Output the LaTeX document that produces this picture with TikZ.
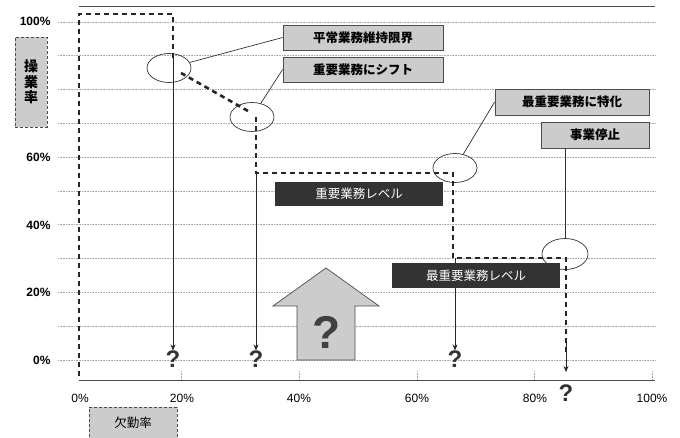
\documentclass[tikz,border=0pt]{standalone}
\usepackage{fontspec}
\setmainfont{Liberation Sans}
\newfontfamily\jp{Noto Sans CJK JP}
\usetikzlibrary{arrows.meta,shapes.geometric}
\begin{document}
\begin{tikzpicture}[x=1pt,y=-1pt,
  grid/.style={gray!70,densely dotted,line width=0.6pt},
  pathline/.style={gray!30!black,line width=2.6pt,dash pattern=on 5pt off 4pt},
  thinarr/.style={gray!30!black,line width=0.7pt,-{Stealth[length=6pt,width=5pt]}},
  ell/.style={ellipse,draw=black!80,line width=0.7pt,minimum width=44pt,minimum height=29pt,inner sep=0pt},
  gbox/.style={draw=black!70,line width=0.8pt,fill=gray!40,font=\jp\bfseries\fontsize{12.5}{14}\selectfont,inner sep=0pt},
  dbox/.style={fill=black!80,text=white,font=\jp\fontsize{12.5}{14}\selectfont,inner sep=0pt,minimum width=168pt,minimum height=24pt},
  ylab/.style={anchor=east,font=\bfseries\fontsize{12}{14}\selectfont},
  xlab/.style={font=\fontsize{12}{14}\selectfont},
  qm/.style={font=\bfseries\fontsize{24}{26}\selectfont,text=black!80,inner sep=0pt},
  conn/.style={black!80,line width=0.7pt}]
\useasboundingbox (0,0) rectangle (680,438);
% grid
\foreach \k in {0,...,10}{\draw[grid] (58,{22+33.8*\k}) -- (655,{22+33.8*\k});}
\draw[gray!60!black,line width=0.6pt] (79,6) -- (655,6);
\draw[gray!60!black,line width=0.8pt] (79,380) -- (655,380);
\foreach \x in {181,299,417,534,652}{\draw[grid] (\x,371) -- (\x,380);}
% y labels
\node[ylab] (y100) at (54,21) {100\%};
\node[ylab] (y60) at (54,157) {60\%};
\node[ylab] (y40) at (54,225) {40\%};
\node[ylab] (y20) at (54,292) {20\%};
\node[ylab] (y0) at (54,360) {0\%};
% x labels
\node[xlab] (x0) at (80,398) {0\%};
\node[xlab] (x20) at (182,398) {20\%};
\node[xlab] (x40) at (299,398) {40\%};
\node[xlab] (x60) at (417,398) {60\%};
\node[xlab] (x80) at (535,398) {80\%};
\node[xlab] (x100) at (652,398) {100\%};
% axis titles
\node[draw=gray!60!black,densely dashed,line width=0.8pt,fill=gray!40,minimum width=32pt,minimum height=90pt,inner sep=0pt,align=center,font=\jp\bfseries\fontsize{14}{15.5}\selectfont] (ytitle) at (31,82) {操\\業\\率};
\node[draw=gray!60!black,densely dashed,line width=0.8pt,fill=gray!40,minimum width=88pt,minimum height=32pt,inner sep=0pt,font=\jp\fontsize{12.5}{14}\selectfont] (xtitle) at (133,423) {欠勤率};
% big arrow
\draw[black!70,line width=0.7pt,fill=gray!40] (297,360) -- (297,306) -- (273,306) -- (326,268) -- (379,306) -- (355,306) -- (355,360) -- cycle;
\node[font=\bfseries\fontsize{46}{48}\selectfont,text=black!75,inner sep=0pt] (bigq) at (327,332) {?};
% ellipses
\node[ell] (e1) at (169,68) {};
\node[ell] (e2) at (252,117) {};
\node[ell] (e3) at (455,168) {};
\node[ell,minimum width=46pt,minimum height=31pt] (e4) at (565,254) {};
% question marks
\node[qm] (q1) at (173,359) {?};
\node[qm] (q2) at (256,359) {?};
\node[qm] (q3) at (455,359) {?};
\node[qm] (q4) at (566,393) {?};
\coordinate (c4) at (566,372);
% thick scenario path
\draw[pathline] (79,376) -- (79,14) -- (173,14) -- (173,58);
\draw[pathline] (181,73) -- (248,111);
\draw[pathline] (256,117) -- (256,173) -- (453,173) -- (453,258) -- (566,258) -- (566,352);
\draw[thinarr] (566,340) -- (c4);
% thin arrows
\draw[thinarr] (173,58) -- (q1.north);
\draw[thinarr] (256,173) -- (q2.north);
\draw[thinarr] (455,258) -- (q3.north);
% level boxes
\node[dbox] (L1) at (359,194) {重要業務レベル};
\node[dbox,minimum height=25pt] (L2) at (476,275.5) {最重要業務レベル};
% callouts
\node[gbox,minimum width=160pt,minimum height=25pt] (A) at (363,37.5) {平常業務維持限界};
\node[gbox,minimum width=160pt,minimum height=25pt] (B) at (363,69.5) {重要業務にシフト};
\node[gbox,minimum width=154pt,minimum height=26pt] (C) at (572,102) {最重要業務に特化};
\node[gbox,minimum width=108pt,minimum height=26pt] (D) at (595,135) {事業停止};
\draw[conn] (e1) -- (A.west);
\draw[conn] (e2) -- (B.west);
\draw[conn] (e3) -- (C.west);
\draw[conn] (e4.north) -- (e4.north |- D.south);
\end{tikzpicture}
\end{document}
